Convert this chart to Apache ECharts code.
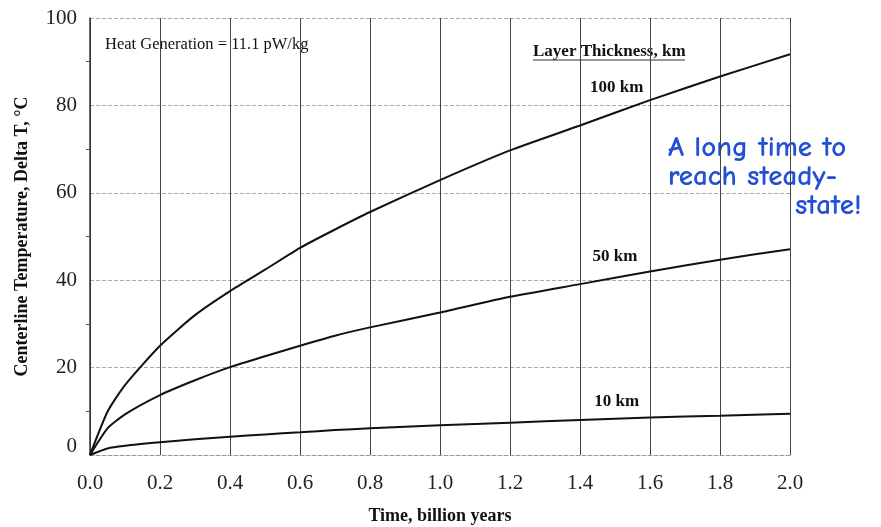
<!DOCTYPE html>
<html>
<head>
<meta charset="utf-8">
<script src="https://cdn.jsdelivr.net/npm/echarts@6/dist/echarts.min.js"></script>
<style>
  html, body { margin: 0; padding: 0; background: #fff; }
  #chart { width: 881px; height: 527px; }
</style>
</head>
<body>
<div id="chart"></div>
<script>
// Time in billion years
const timeGyr = [0, 0.05, 0.1, 0.2, 0.3, 0.4, 0.5, 0.6, 0.7, 0.8, 1.0, 1.2, 1.4, 1.6, 1.8, 2.0];
// Centerline temperature rise (°C) for each layer thickness
const thick100 = [0, 9.9, 16.0, 25.0, 32.0, 37.5, 42.4, 47.4, 51.6, 55.6, 62.9, 69.7, 75.4, 81.2, 86.6, 91.7];
const thick50  = [0, 6.1, 9.3, 13.7, 17.1, 20.1, 22.6, 25.0, 27.3, 29.2, 32.6, 36.2, 39.1, 42.0, 44.7, 47.1];
const thick10  = [0, 1.5, 2.1, 2.9, 3.6, 4.2, 4.7, 5.2, 5.7, 6.1, 6.8, 7.4, 8.0, 8.6, 9.0, 9.45];
const seriesNames = ['100 km', '50 km', '10 km'];
// where each curve's label sits, [time, temperature]
const labelAt = [[1.505, 84.1], [1.5, 45.5], [1.505, 12.3]];

const serif = '"Liberation Serif", "DejaVu Serif", serif';
const hand = 'bold 29px "Comic Neue", "Comic Sans MS", "DejaVu Sans", sans-serif';
const pair = (ys) => timeGyr.map((t, i) => [t, ys[i]]);

const chart = echarts.init(document.getElementById('chart'));
const curves = [thick100, thick50, thick10].map((ys, k) => ({
  name: seriesNames[k],
  type: 'line',
  data: pair(ys),
  smooth: 0.2,
  showSymbol: false,
  lineStyle: { color: '#111', width: 2 },
  markPoint: {
    symbol: 'circle',
    symbolSize: 1,
    itemStyle: { color: 'rgba(0,0,0,0)' },
    data: [{ coord: labelAt[k], value: seriesNames[k] }],
    label: {
      show: true, position: 'inside', formatter: seriesNames[k],
      fontFamily: serif, fontWeight: 'bold', fontSize: 17, color: '#111'
    }
  }
}));

chart.setOption({
  animation: false,
  backgroundColor: '#fff',
  grid: { left: 90, right: 91, top: 18, bottom: 72, outerBoundsMode: 'none' },
  xAxis: {
    type: 'value', min: 0, max: 2, interval: 0.2,
    name: 'Time, billion years', nameLocation: 'middle', nameGap: 52,
    nameTextStyle: { fontFamily: serif, fontWeight: 'bold', fontSize: 18, color: '#111' },
    axisLine: { show: true, lineStyle: { color: '#999', type: 'dashed', width: 1 } },
    axisTick: { show: false },
    axisLabel: { formatter: v => v.toFixed(1), fontFamily: serif, fontSize: 21, color: '#222', margin: 18 },
    splitLine: { show: true, lineStyle: { color: '#444', width: 1 } }
  },
  yAxis: {
    type: 'value', min: 0, max: 100, interval: 20,
    name: 'Centerline Temperature, Delta T, °C', nameLocation: 'middle', nameGap: 59,
    nameTextStyle: { fontFamily: serif, fontWeight: 'bold', fontSize: 18, color: '#111' },
    axisLine: { show: true, lineStyle: { color: '#333', width: 1.5 } },
    axisTick: { show: false },
    minorTick: { show: true, splitNumber: 2, length: 4, lineStyle: { color: '#555' } },
    axisLabel: {
      fontFamily: serif, fontSize: 21, color: '#222', margin: 13,
      // the zero label sits a little above the axis corner
      formatter: v => (v === 0 ? '{z|0}' : String(v)),
      rich: { z: { fontFamily: serif, fontSize: 21, color: '#222', padding: [0, 0, 18, 0] } }
    },
    splitLine: { show: true, lineStyle: { color: '#aaa', type: 'dashed', width: 1 } }
  },
  graphic: [
    { type: 'text', left: 105, top: 36,
      style: { text: 'Heat Generation = 11.1 pW/kg', font: '16.5px ' + serif, fill: '#111' } },
    { type: 'text', left: 533, top: 43,
      style: { text: 'Layer Thickness, km', font: 'bold 17px ' + serif, fill: '#111' } },
    { type: 'line', shape: { x1: 533, y1: 60, x2: 685, y2: 60 },
      style: { stroke: '#333', lineWidth: 1 } },
    { type: 'text', left: 668, top: 133, style: { text: 'A long time to', font: hand, fill: '#2150d4' } },
    { type: 'text', left: 668, top: 162, style: { text: 'reach steady-', font: hand, fill: '#2150d4' } },
    { type: 'text', left: 795, top: 191, style: { text: 'state!', font: hand, fill: '#2150d4' } }
  ],
  series: curves
});
</script>
</body>
</html>
